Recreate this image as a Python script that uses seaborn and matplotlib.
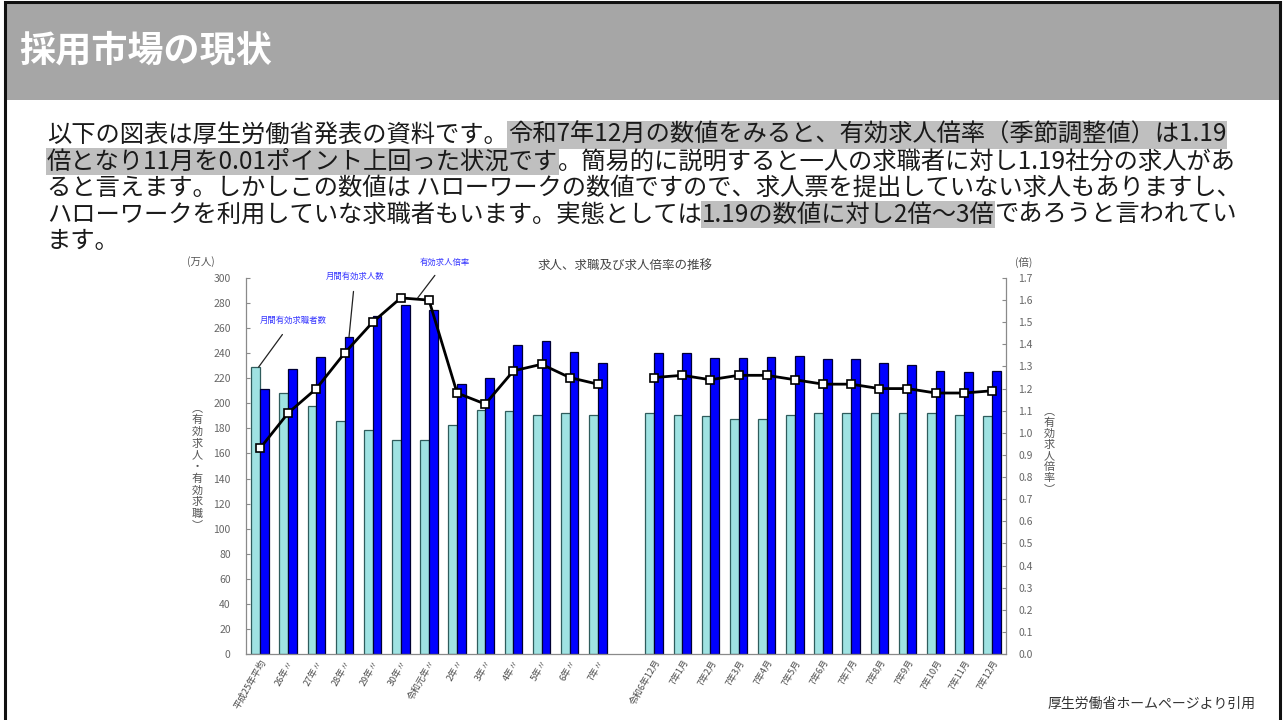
import numpy as np
import pandas as pd
import matplotlib
matplotlib.use("Agg")
import matplotlib.pyplot as plt
from matplotlib.patches import Rectangle
from matplotlib.ticker import FormatStrFormatter
import seaborn as sns

# ---------------- data ----------------
annual_labels = ["平成25年平均", "26年〃", "27年〃", "28年〃", "29年〃", "30年〃", "令和元年〃",
                 "2年〃", "3年〃", "4年〃", "5年〃", "6年〃", "7年〃"]
monthly_labels = ["令和6年12月", "7年1月", "7年2月", "7年3月", "7年4月", "7年5月", "7年6月",
                  "7年7月", "7年8月", "7年9月", "7年10月", "7年11月", "7年12月"]

annual_seekers = [229, 208.5, 198, 186, 179, 171, 171, 183, 195, 193.5, 191, 192.5, 191]
annual_openings = [211.5, 227.5, 237, 253, 270, 278.5, 274.5, 215.5, 220, 246.5, 250, 241, 232.5]
annual_ratio = [0.93, 1.09, 1.20, 1.36, 1.50, 1.61, 1.60, 1.18, 1.13, 1.28, 1.31, 1.25, 1.22]

monthly_seekers = [192, 190.5, 189.5, 187.5, 187.5, 190.5, 192, 192, 192.5, 192, 192, 190.5, 189.5]
monthly_openings = [240, 240, 236, 236, 237, 238, 235, 235, 232, 230.5, 226, 225, 226]
monthly_ratio = [1.25, 1.26, 1.24, 1.26, 1.26, 1.24, 1.22, 1.22, 1.20, 1.20, 1.18, 1.18, 1.19]

series_names = ["月間有効求職者数", "月間有効求人数"]
gap_label = " "

header_title = "採用市場の現状"
body_lines = [
    [("以下の図表は厚生労働省発表の資料です。", False),
     ("令和7年12月の数値をみると、有効求人倍率（季節調整値）は1.19", True)],
    [("倍となり11月を0.01ポイント上回った状況です", True),
     ("。簡易的に説明すると一人の求職者に対し1.19社分の求人があ", False)],
    [("ると言えます。しかしこの数値は ハローワークの数値ですので、求人票を提出していない求人もありますし、", False)],
    [("ハローワークを利用していな求職者もいます。実態としては", False),
     ("1.19の数値に対し2倍〜3倍", True),
     ("であろうと言われてい", False)],
    [("ます。", False)],
]
chart_title = "求人、求職及び求人倍率の推移"
source_note = "厚生労働省ホームページより引用"

# ---------------- style ----------------
sns.set_style("white")
plt.rcParams["font.family"] = ["Noto Sans CJK JP", "DejaVu Sans"]

W, H = 1284, 720
fig = plt.figure(figsize=(W / 100, H / 100), dpi=100)
fig.patch.set_facecolor("white")

# header band + slide frame
fig.add_artist(Rectangle((5 / W, 1 - 100 / H), 1275 / W, 99 / H, transform=fig.transFigure,
                         fc="#a6a6a6", ec="none", zorder=0))
fig.add_artist(Rectangle((5.5 / W, -0.05), 1274.5 / W, 1.05 - 1.5 / H, transform=fig.transFigure,
                         fill=False, ec="#111111", lw=2.2, zorder=5))
fig.text(19 / W, 1 - 51 / H, header_title, fontsize=26, fontweight="bold", color="white",
         ha="left", va="center")

# body text with highlights
renderer = fig.canvas.get_renderer()
probe = fig.text(0, 0, "".join(s for s, _ in body_lines[0]), fontsize=17)
w1 = probe.get_window_extent(renderer).width
probe.remove()
fs = 17 * (1230 - 47) / w1

for i, segs in enumerate(body_lines):
    x = 47
    y = 135 + 26.5 * i
    for txt, hl in segs:
        kw = {}
        if hl:
            kw["bbox"] = dict(boxstyle="square,pad=0.03", fc="#bfbfbf", ec="none")
        t = fig.text(x / W, 1 - y / H, txt, fontsize=fs, color="#1a1a1a", ha="left", va="center", **kw)
        x += t.get_window_extent(renderer).width

# ---------------- chart ----------------
ax = fig.add_axes([246 / W, 66 / H, 760 / W, 376 / H])

order = annual_labels + [gap_label] + monthly_labels
df = pd.DataFrame({
    "cat": annual_labels * 2 + monthly_labels * 2,
    "series": [series_names[0]] * 13 + [series_names[1]] * 13 + [series_names[0]] * 13 + [series_names[1]] * 13,
    "value": annual_seekers + annual_openings + monthly_seekers + monthly_openings,
})

sns.barplot(data=df, x="cat", y="value", hue="series", order=order, hue_order=series_names,
            palette={series_names[0]: "#9fe2e2", series_names[1]: "#0000ff"},
            width=0.62, saturation=1, linewidth=0.9, legend=False, ax=ax)
edge_cols = ["#2f5c5c", "#000033"]
for cont, ec in zip(ax.containers, edge_cols):
    for p in cont:
        p.set_edgecolor(ec)

ax.set_ylim(0, 300)
ax.set_yticks(range(0, 301, 20))
ax.set_xlabel("")
ax.set_ylabel("")
for s in ["top", "right"]:
    ax.spines[s].set_visible(False)
for s in ["left", "bottom"]:
    ax.spines[s].set_color("#8a8a8a")
    ax.spines[s].set_linewidth(0.9)
ax.tick_params(axis="y", direction="in", length=3, color="#8a8a8a", labelsize=7.5, labelcolor="#666666", pad=11)
ax.tick_params(axis="x", which="major", length=0, pad=3)
ax.set_xticks(np.arange(-0.5, len(order), 1), minor=True)
ax.tick_params(axis="x", which="minor", length=2, color="#888888", direction="out")
for lbl in ax.get_xticklabels():
    lbl.set_rotation(60)
    lbl.set_ha("right")
    lbl.set_rotation_mode("anchor")
    lbl.set_fontsize(6.5)
    lbl.set_color("#4a4a4a")

ax2 = ax.twinx()
x_annual = np.arange(len(annual_labels))
x_month = np.arange(len(monthly_labels)) + len(annual_labels) + 1
for xs, ys in [(x_annual, annual_ratio), (x_month, monthly_ratio)]:
    sns.lineplot(x=xs, y=ys, ax=ax2, color="black", lw=2, marker="s", markersize=6,
                 markerfacecolor="white", markeredgecolor="black", markeredgewidth=1.2)
ax2.set_ylim(0, 1.7)
ax2.set_yticks(np.arange(0, 1.71, 0.1))
ax2.yaxis.set_major_formatter(FormatStrFormatter("%.1f"))
ax2.set_xlim(-0.5, len(order) - 0.5)
ax2.set_xlabel("")
ax2.set_ylabel("")
for s in ["top", "left", "bottom"]:
    ax2.spines[s].set_visible(False)
ax2.spines["right"].set_color("#8a8a8a")
ax2.spines["right"].set_linewidth(0.9)
ax2.tick_params(axis="y", direction="in", length=3, color="#8a8a8a", labelsize=7.5, labelcolor="#666666", pad=9)

# annotations
ann_col = "#3535ff"
ax.annotate(series_names[0], xy=(-0.05, 229), xytext=(1.17, 266.5), fontsize=6, color=ann_col,
            ha="center", va="center", annotation_clip=False,
            arrowprops=dict(arrowstyle="-", color="#222222", lw=0.9, shrinkA=6, shrinkB=0))
ax.annotate(series_names[1], xy=(3.16, 253), xytext=(3.37, 301), fontsize=6, color=ann_col,
            ha="center", va="center", annotation_clip=False,
            arrowprops=dict(arrowstyle="-", color="#222222", lw=0.9, shrinkA=5, shrinkB=0))
ax2.annotate("有効求人倍率", xy=(5.6, 1.61), xytext=(6.57, 1.772), fontsize=6, color=ann_col,
             ha="center", va="center", annotation_clip=False,
             arrowprops=dict(arrowstyle="-", color="#222222", lw=0.9, shrinkA=5, shrinkB=0))

# chart texts
grey = "#555555"
fig.text(625 / W, 1 - 265 / H, chart_title, fontsize=9, color="#444444", ha="center", va="center")
fig.text(201 / W, 1 - 262 / H, "(万人)", fontsize=7.5, color=grey, ha="center", va="center")
fig.text(1024 / W, 1 - 262 / H, "(倍)", fontsize=7.5, color=grey, ha="center", va="center")
fig.text(197 / W, 1 - 467 / H, "\n".join("︵有効求人・有効求職︶"), fontsize=8, color=grey,
         ha="center", va="center", linespacing=1.2)
fig.text(1049 / W, 1 - 450 / H, "\n".join("︵有効求人倍率︶"), fontsize=8, color=grey,
         ha="center", va="center", linespacing=1.13)
fig.text(1152 / W, 1 - 704 / H, source_note, fontsize=10, color="#333333", ha="center", va="center")

fig.savefig("out.png", dpi=100)
